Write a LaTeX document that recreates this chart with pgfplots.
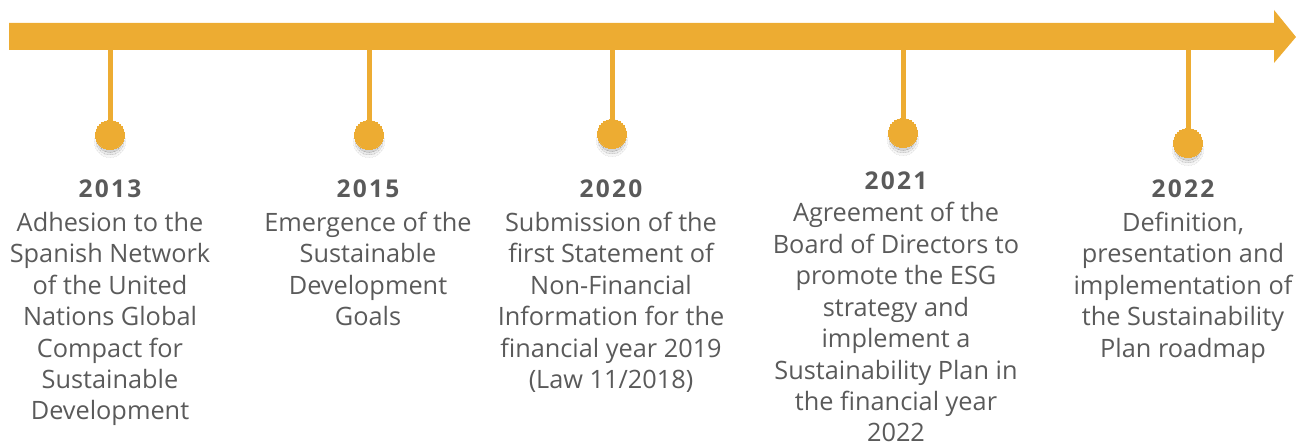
\documentclass[border=0pt]{standalone}
\usepackage{pgfplots}
\pgfplotsset{compat=1.18}
\usepackage{fontspec}
\setmainfont{Open Sans}
\newfontfamily\yrfont[LetterSpace=9]{Open Sans}
\definecolor{tlorange}{HTML}{EDAC32}
\definecolor{tltext}{HTML}{5A5A5A}
\newcommand{\body}{\fontsize{25.3}{31}\selectfont}
\newcommand{\yr}{\yrfont\fontsize{24.5}{31}\selectfont\bfseries}
\begin{document}
\begin{tikzpicture}
\begin{axis}[
  width=1296pt, height=446pt, scale only axis,
  xmin=0, xmax=1296, ymin=0, ymax=446, y dir=reverse,
  hide axis, clip=false,
]
% arrow
\addplot[fill=tlorange, draw=none] coordinates {(9,23) (1274,23) (1274,10) (1296,37) (1274,63) (1274,50) (9,50)} -- cycle;
% stems
\addplot[tlorange, line width=5pt] coordinates {(110,49) (110,135)};
\addplot[tlorange, line width=5pt] coordinates {(369,49) (369,135)};
\addplot[tlorange, line width=5pt] coordinates {(612,49) (612,134)};
\addplot[tlorange, line width=5pt] coordinates {(903,49) (903,133)};
\addplot[tlorange, line width=5pt] coordinates {(1188,49) (1188,143)};
% shadows
\addplot[only marks, mark=*, mark size=15.5pt, color=black, opacity=0.035, line width=0pt] coordinates {(110,142) (369,142) (612,141) (903,140) (1188,150)};
\addplot[only marks, mark=*, mark size=14pt, color=black, opacity=0.06, line width=0pt] coordinates {(110,141) (369,141) (612,140) (903,139) (1188,149)};
\addplot[only marks, mark=*, mark size=12.5pt, color=black, opacity=0.09, line width=0pt] coordinates {(110,140) (369,140) (612,139) (903,138) (1188,148)};
% dots
\addplot[only marks, mark=*, mark size=14.5pt, color=tlorange, line width=0pt] coordinates {(110,135) (369,135) (612,134) (903,133) (1188,143)};
% texts
\begin{scope}[every node/.style={anchor=base, text=tltext, inner sep=0pt}]
\node[font=\yr] at (axis cs:110,198) {2013};
\node[font=\body] at (axis cs:110,231.5) {Adhesion to the};
\node[font=\body] at (axis cs:110,262.9) {Spanish Network};
\node[font=\body] at (axis cs:110,294.3) {of the United};
\node[font=\body] at (axis cs:110,325.7) {Nations Global};
\node[font=\body] at (axis cs:110,357.1) {Compact for};
\node[font=\body] at (axis cs:110,388.5) {Sustainable};
\node[font=\body] at (axis cs:110,419.9) {Development};
\node[font=\yr] at (axis cs:368,198) {2015};
\node[font=\body] at (axis cs:368,231.5) {Emergence of the};
\node[font=\body] at (axis cs:368,262.9) {Sustainable};
\node[font=\body] at (axis cs:368,294.3) {Development};
\node[font=\body] at (axis cs:368,325.7) {Goals};
\node[font=\yr] at (axis cs:611,198) {2020};
\node[font=\body] at (axis cs:611,231.5) {Submission of the};
\node[font=\body] at (axis cs:611,262.9) {first Statement of};
\node[font=\body] at (axis cs:611,294.3) {Non-Financial};
\node[font=\body] at (axis cs:611,325.7) {Information for the};
\node[font=\body] at (axis cs:611,357.1) {financial year 2019};
\node[font=\body] at (axis cs:611,388.5) {(Law 11/2018)};
\node[font=\yr] at (axis cs:896,190) {2021};
\node[font=\body] at (axis cs:896,222) {Agreement of the};
\node[font=\body] at (axis cs:896,253.4) {Board of Directors to};
\node[font=\body] at (axis cs:896,284.8) {promote the ESG};
\node[font=\body] at (axis cs:896,316.2) {strategy and};
\node[font=\body] at (axis cs:896,347.6) {implement a};
\node[font=\body] at (axis cs:896,379) {Sustainability Plan in};
\node[font=\body] at (axis cs:896,410.4) {the financial year};
\node[font=\body] at (axis cs:896,441.8) {2022};
\node[font=\yr] at (axis cs:1183,198) {2022};
\node[font=\body] at (axis cs:1183,231.5) {Definition,};
\node[font=\body] at (axis cs:1183,262.9) {presentation and};
\node[font=\body] at (axis cs:1183,294.3) {implementation of};
\node[font=\body] at (axis cs:1183,325.7) {the Sustainability};
\node[font=\body] at (axis cs:1183,357.1) {Plan roadmap};
\end{scope}
\end{axis}
\pgfresetboundingbox
\path[use as bounding box] (current axis.south west) rectangle (current axis.north east);
\end{tikzpicture}
\end{document}
